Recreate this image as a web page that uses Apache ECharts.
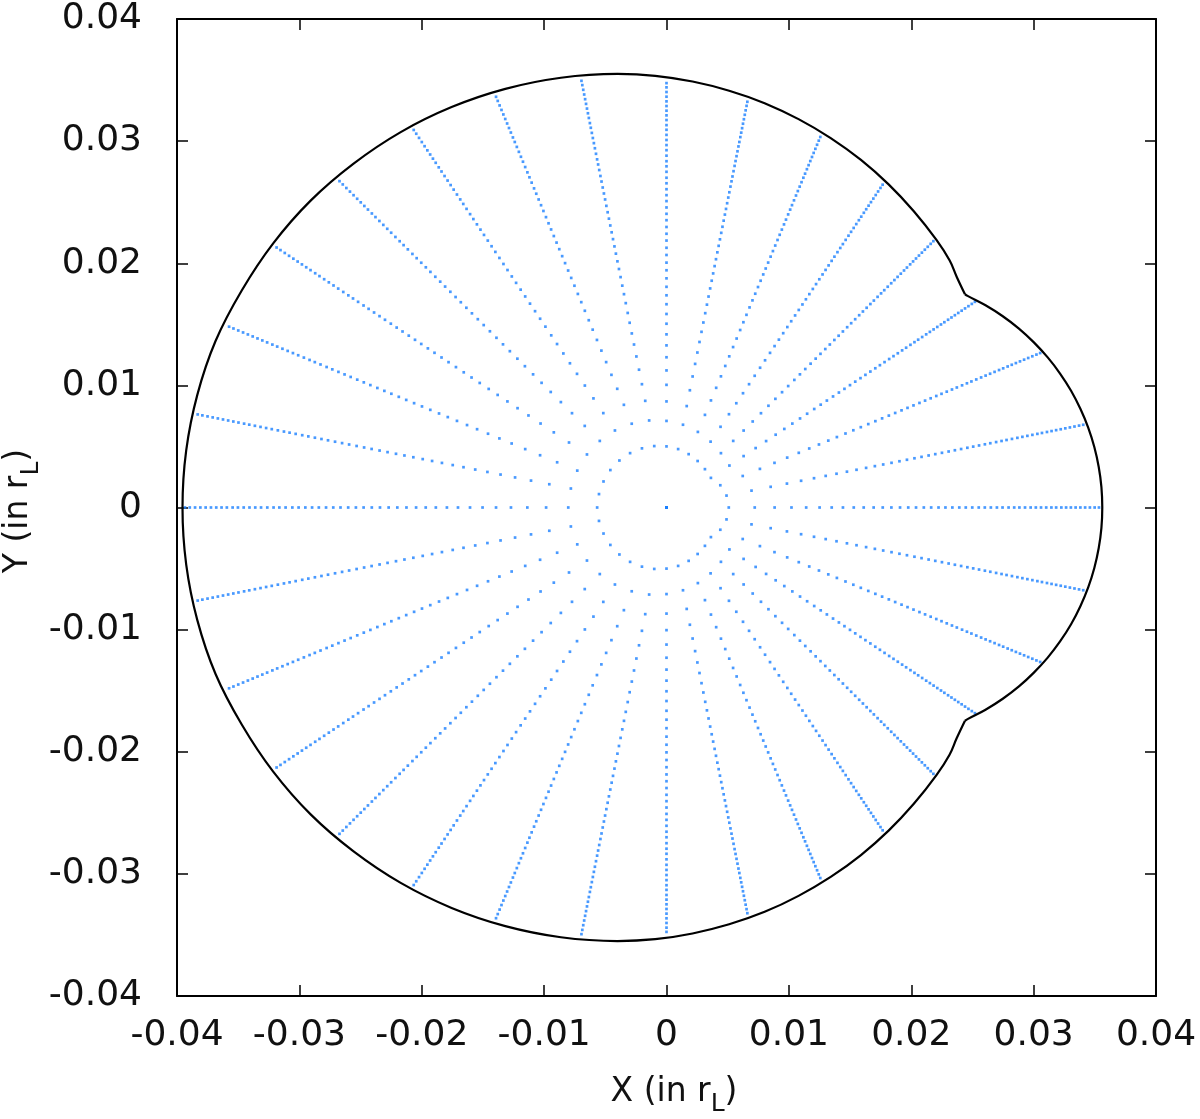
<!DOCTYPE html>
<html><head><meta charset="utf-8">
<script src="https://cdn.jsdelivr.net/npm/echarts@6/dist/echarts.min.js"></script>
<style>html,body{margin:0;padding:0;background:#fff}#c{width:1200px;height:1119px}</style>
</head><body><div id="c"></div><script>
// tick labels
const xTickLabels = ['-0.04','-0.03','-0.02','-0.01','0','0.01','0.02','0.03','0.04'];
const yTickLabels = ['-0.04','-0.03','-0.02','-0.01','0','0.01','0.02','0.03','0.04'];

// spokes: direction (deg) and length (in r_L)
const spokeAngles = [0,11.25,22.5,33.75,45,56.25,67.5,78.75,90,101.25,112.5,123.75,135,146.25,157.5,168.75,
  180,191.25,202.5,213.75,225,236.25,247.5,258.75,270,281.25,292.5,303.75,315,326.25,337.5,348.75];
const spokeLengths = [0.03534,0.03472,0.03305,0.03031,0.03084,0.03179,0.03284,0.03387,0.03475,0.03562,0.03640,0.03718,0.03779,0.03832,0.03869,0.03906,
  0.03935,0.03906,0.03869,0.03832,0.03779,0.03718,0.03640,0.03562,0.03475,0.03387,0.03284,0.03179,0.03084,0.03031,0.03305,0.03472];
// positions of the dots along each spoke, as a fraction of the spoke length
const dotFractions = [0,0.144,0.204,0.250,0.289,0.323,0.354,0.382,0.408,0.433,0.456,0.479,0.500,0.520,0.540,0.559,0.577,
  0.595,0.612,0.629,0.645,0.661,0.677,0.692,0.707,0.722,0.736,0.750,0.764,0.777,0.791,0.804,0.816,0.829,0.842,0.854,
  0.866,0.878,0.890,0.901,0.913,0.924,0.935,0.946,0.957,0.968,0.979,0.990,1.000];

// boundary, main arc, upper half: upper kink -> top -> leftmost point (in r_L)
const boundaryMainUpper = [[0.02439,0.01746],[0.02371,0.01890],[0.02313,0.02024],[0.02206,0.02191],[0.02021,0.02426],
  [0.01815,0.02646],[0.01589,0.02846],[0.01342,0.03025],[0.01079,0.03180],[0.00802,0.03311],[0.00512,0.03413],
  [0.00213,0.03488],[-0.00092,0.03535],[-0.00400,0.03550],
  [-0.00863,0.03519],[-0.01317,0.03428],[-0.01756,0.03279],[-0.02172,0.03074],[-0.02557,0.02816],[-0.02908,0.02513],
  [-0.03214,0.02163],[-0.03471,0.01777],[-0.03685,0.01363],[-0.03834,0.00922],[-0.03925,0.00465],[-0.03955,0]];
// boundary, main arc, lower half: leftmost point -> bottom -> lower kink (in r_L)
const boundaryMainLower = [[-0.03955,0],[-0.03925,-0.00465],[-0.03834,-0.00922],[-0.03685,-0.01363],[-0.03471,-0.01777],
  [-0.03214,-0.02163],[-0.02908,-0.02513],[-0.02557,-0.02816],[-0.02172,-0.03074],[-0.01756,-0.03279],[-0.01317,-0.03428],
  [-0.00863,-0.03519],[-0.00400,-0.03550],[-0.00092,-0.03535],[0.00213,-0.03488],[0.00512,-0.03413],[0.00802,-0.03311],
  [0.01079,-0.03180],[0.01342,-0.03025],[0.01589,-0.02846],[0.01815,-0.02646],[0.02021,-0.02426],[0.02206,-0.02191],
  [0.02313,-0.02024],[0.02371,-0.01890],[0.02439,-0.01746]];
// boundary, right bump: lower kink -> rightmost point -> upper kink (in r_L)
const boundaryBump = [[0.02439,-0.01746],[0.02460,-0.01733],[0.02607,-0.01656],[0.02748,-0.01566],[0.02880,-0.01465],
  [0.03002,-0.01352],[0.03115,-0.01229],[0.03216,-0.01097],[0.03306,-0.00956],[0.03382,-0.00808],[0.03446,-0.00654],
  [0.03496,-0.00495],[0.03532,-0.00332],[0.03554,-0.00167],[0.03561,0],[0.03554,0.00167],[0.03532,0.00332],
  [0.03496,0.00495],[0.03446,0.00654],[0.03382,0.00808],[0.03306,0.00956],[0.03216,0.01097],[0.03115,0.01229],
  [0.03002,0.01352],[0.02880,0.01465],[0.02748,0.01566],[0.02607,0.01656],[0.02460,0.01733],[0.02439,0.01746]];

const dots = [];
spokeAngles.forEach((a, k) => {
  const t = a * Math.PI / 180, L = spokeLengths[k];
  dotFractions.forEach(f => dots.push([f * L * Math.cos(t), f * L * Math.sin(t)]));
});
const boundaryMain = boundaryMainUpper.concat(boundaryMainLower.slice(1));

const FONT = 'DejaVu Sans';
const lab = arr => (v => arr[Math.round((v + 0.04) / 0.01)]);
const axisBase = {
  type: 'value', min: -0.04, max: 0.04, interval: 0.01,
  splitLine: { show: false },
  axisLine: { show: true, onZero: false, lineStyle: { color: '#000', width: 2 } },
  axisTick: { show: true, inside: true, length: 11, lineStyle: { color: '#000', width: 1.5 } }
};
const edge = { type: 'line', showSymbol: false, symbol: 'none', smooth: 0.4,
  lineStyle: { color: '#000', width: 2.2 }, silent: true, z: 3 };

const chart = echarts.init(document.getElementById('c'), null, { renderer: 'canvas' });
chart.setOption({
  animation: false,
  backgroundColor: '#fff',
  grid: { left: 177, right: 44, top: 19, bottom: 123, containLabel: false, outerBoundsMode: 'none' },
  xAxis: [
    Object.assign({}, axisBase, { position: 'bottom',
      axisLabel: { show: true, interval: 0, fontSize: 36, fontFamily: FONT, color: '#111', margin: 22, formatter: lab(xTickLabels) } }),
    Object.assign({}, axisBase, { position: 'top', axisLabel: { show: false } })
  ],
  yAxis: [
    Object.assign({}, axisBase, { position: 'left',
      axisLabel: { show: true, interval: 0, fontSize: 36, fontFamily: FONT, color: '#111', margin: 35, formatter: lab(yTickLabels) } }),
    Object.assign({}, axisBase, { position: 'right', axisLabel: { show: false } })
  ],
  graphic: [
    { type: 'text', x: 674, y: 1092, z: 10,
      style: { text: '{a|X (in r}{s|L}{a|)}', align: 'center', verticalAlign: 'middle',
        rich: { a: { fontSize: 33, fontFamily: FONT, fill: '#111', lineHeight: 50 },
                s: { fontSize: 25, fontFamily: FONT, fill: '#111', lineHeight: 22, verticalAlign: 'bottom' } } } },
    { type: 'text', x: 18.5, y: 511, rotation: Math.PI / 2, z: 10,
      style: { text: '{a|Y (in r}{s|L}{a|)}', align: 'center', verticalAlign: 'middle',
        rich: { a: { fontSize: 33, fontFamily: FONT, fill: '#111', lineHeight: 50 },
                s: { fontSize: 25, fontFamily: FONT, fill: '#111', lineHeight: 22, verticalAlign: 'bottom' } } } }
  ],
  series: [
    { type: 'scatter', data: dots, symbol: 'rect', symbolSize: 2.7, itemStyle: { color: '#1a80ff' }, silent: true, z: 2 },
    Object.assign({}, edge, { data: boundaryMain }),
    Object.assign({}, edge, { data: boundaryBump })
  ]
});
</script></body></html>
